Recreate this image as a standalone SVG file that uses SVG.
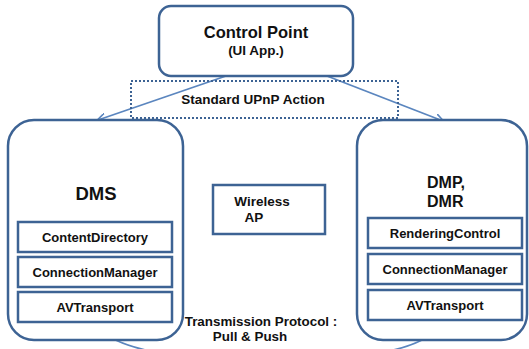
<svg xmlns="http://www.w3.org/2000/svg" width="529" height="349" viewBox="0 0 529 349">
<defs>
<style>
.box{fill:#fff;stroke:#3d6394;stroke-width:2.5}
.sub{fill:#fff;stroke:#3d6394;stroke-width:2.5}
.t{font-family:"Liberation Sans",Arial,sans-serif;font-weight:bold;fill:#111;text-anchor:middle}
.ln{fill:none;stroke:#5b86bf;stroke-width:1.8}
</style>
<marker id="ah" viewBox="0 0 10 10" refX="9" refY="5" markerWidth="9" markerHeight="9" orient="auto" markerUnits="userSpaceOnUse">
<path d="M0,0 L10,5 L0,10" fill="none" stroke="#5b86bf" stroke-width="1.8"/>
</marker>
</defs>
<rect width="529" height="349" fill="#fff"/>
<g id="connectors">
<line class="ln" x1="226" y1="76" x2="98" y2="120" marker-end="url(#ah)"/>
<line class="ln" x1="327" y1="76" x2="443" y2="121" marker-end="url(#ah)"/>
<path class="ln" d="M97 323 C115 375 420 375 438 325" marker-end="url(#ah)"/>
</g>
<g id="action">
<rect x="131" y="81" width="267" height="37" fill="none" stroke="#3d6394" stroke-width="2" stroke-dasharray="2,2"/>
<text class="t" x="253" y="104" font-size="13.5">Standard UPnP Action</text>
</g>
<g id="controlpoint">
<rect class="box" x="159" y="6" width="194" height="70" rx="12"/>
<text class="t" x="256" y="38" font-size="16.5">Control Point</text>
<text class="t" x="256" y="55" font-size="13.5">(UI App.)</text>
</g>
<g id="dms">
<rect class="box" x="8" y="120" width="175" height="220" rx="26"/>
<text class="t" x="96" y="200" font-size="18.5">DMS</text>
<rect class="sub" x="18" y="222" width="154" height="30"/>
<text class="t" x="95" y="242" font-size="13">ContentDirectory</text>
<rect class="sub" x="18" y="257" width="154" height="30"/>
<text class="t" x="95" y="277" font-size="13">ConnectionManager</text>
<rect class="sub" x="18" y="292" width="154" height="30"/>
<text class="t" x="95" y="312" font-size="13">AVTransport</text>
</g>
<g id="dmp">
<rect class="box" x="357" y="120" width="170" height="220" rx="26"/>
<text class="t" x="427" y="188" font-size="16" text-anchor="start" style="text-anchor:start">DMP,</text>
<text class="t" x="427" y="207" font-size="16" style="text-anchor:start">DMR</text>
<rect class="sub" x="368" y="218" width="154" height="30"/>
<text class="t" x="445" y="238" font-size="13">RenderingControl</text>
<rect class="sub" x="368" y="254" width="154" height="30"/>
<text class="t" x="445" y="274" font-size="13">ConnectionManager</text>
<rect class="sub" x="368" y="290" width="154" height="30"/>
<text class="t" x="445" y="310" font-size="13">AVTransport</text>
</g>
<g id="ap">
<rect class="sub" x="213" y="185" width="112" height="49"/>
<text class="t" x="262" y="206" font-size="13.5">Wireless</text>
<text class="t" x="254" y="222" font-size="13.5">AP</text>
</g>
<g id="protocol">
<text class="t" x="261" y="326" font-size="13.4">Transmission Protocol :</text>
<text class="t" x="250" y="341" font-size="13.4">Pull &amp; Push</text>
</g>
</svg>
